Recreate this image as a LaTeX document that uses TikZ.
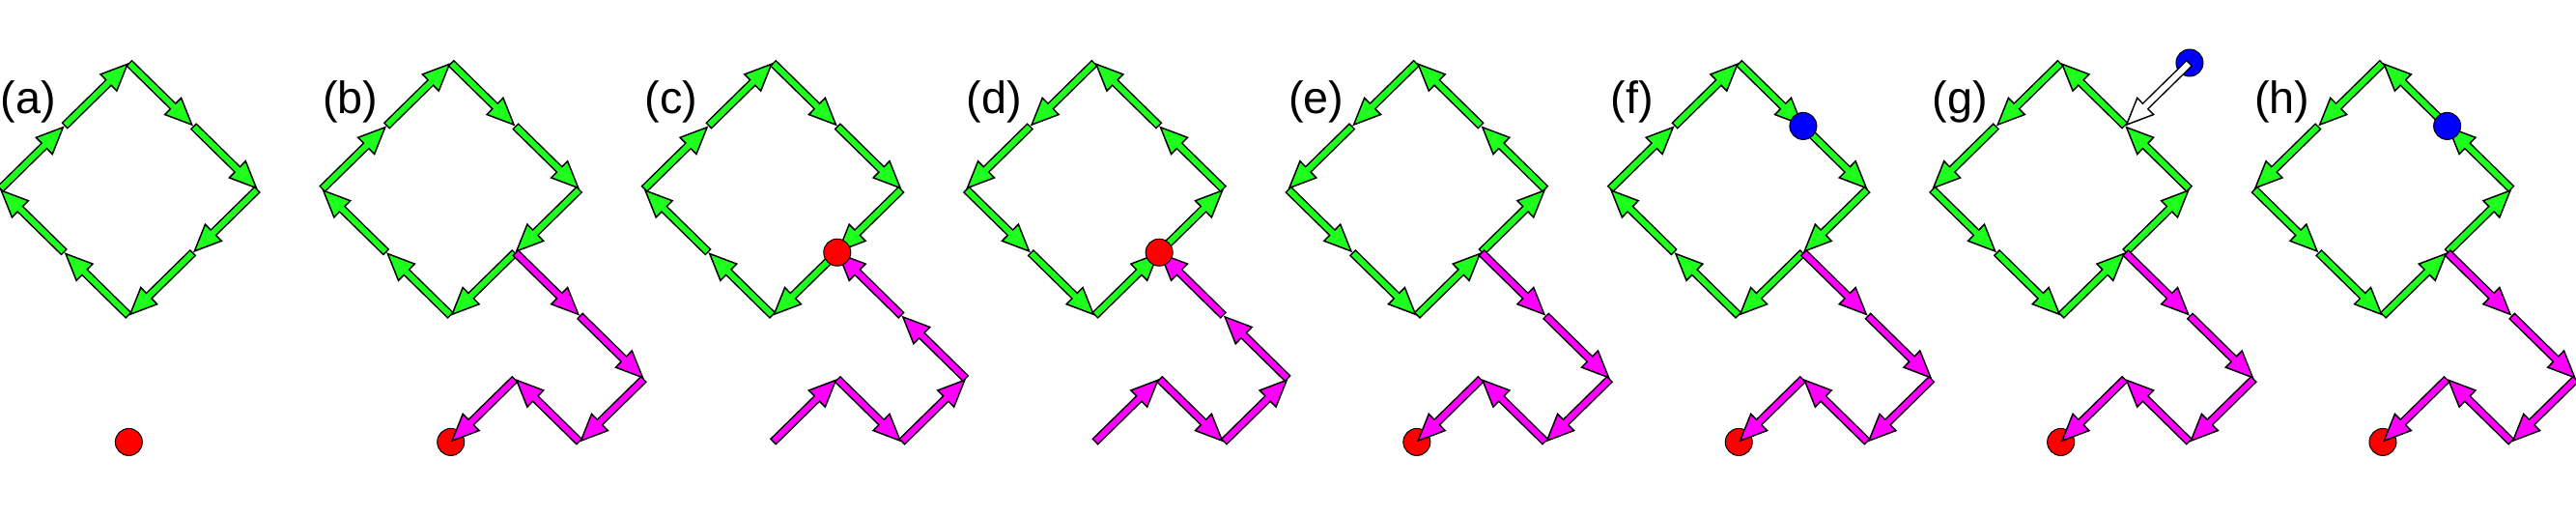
\documentclass[tikz,border=0pt]{standalone}
\usepackage{fontspec}
\setmainfont{Liberation Sans}
\usetikzlibrary{arrows.meta}
\definecolor{loopgreen}{RGB}{30,255,30}
\definecolor{tailpink}{RGB}{255,0,255}
\tikzset{
     hop/.style={line width=0.9mm, draw=black,
       -{Triangle[length=3.0mm, width=2.6mm, line width=0.15mm, fill=#1]}},
     hopfill/.style={line width=0.6mm, draw=#1, shorten <=0.15mm, shorten >=2.4mm},
     dot/.style={circle, draw=black, line width=0.1mm, fill=#1,
       minimum size=2.8mm, inner sep=0pt},
     paneltag/.style={anchor=base west, inner sep=0pt,
       font=\fontsize{13.3pt}{16pt}\selectfont},
}
% one lattice step: black outline, coloured body
\newcommand{\hop}[3]{%
  \draw[hop=#3] (#1) -- (#2);
  \draw[hopfill=#3] (#1) -- (#2);
}

\begin{document}
\begin{tikzpicture}[x=0.6667cm, y=0.654cm]
  \useasboundingbox (0,-1.171) rectangle (40,6.994);

  % lattice points of the eight panels
  \foreach \p [count=\k from 0] in {a,b,c,d,e,f,g,h}{
    \begin{scope}[shift={(5*\k,0)}]
      \coordinate (\p-L) at (0,4);
      \coordinate (\p-T) at (2,6);
      \coordinate (\p-R) at (4,4);
      \coordinate (\p-B) at (2,2);
      \coordinate (\p-tl) at (1,5);
      \coordinate (\p-tr) at (3,5);
      \coordinate (\p-br) at (3,3);
      \coordinate (\p-bl) at (1,3);
      \coordinate (\p-t1) at (4,2);
      \coordinate (\p-t2) at (5,1);
      \coordinate (\p-t3) at (4,0);
      \coordinate (\p-t4) at (3,1);
      \coordinate (\p-t5) at (2,0);
      \node[paneltag] (\p-tag) at (0,5.205) {(\p)};
    \end{scope}
  }
  \coordinate (g-src) at (34,6);

  % end dots under the tails
  \foreach \p in {a,b,e,f,g,h}{
    \node[dot=red] (\p-hole) at (\p-t5) {};
  }

  % clockwise loops
  \foreach \p in {a,b,c,f}{
    \foreach \u/\v in {L/tl,tl/T,T/tr,tr/R,R/br,br/B,B/bl,bl/L}{
      \hop{\p-\u}{\p-\v}{loopgreen}
    }
  }
  % anticlockwise loops
  \foreach \p in {d,e,g,h}{
    \foreach \u/\v in {T/tl,tl/L,L/bl,bl/B,B/br,br/R,R/tr,tr/T}{
      \hop{\p-\u}{\p-\v}{loopgreen}
    }
  }

  % tails going out
  \foreach \p in {b,e,f,g,h}{
    \foreach \u/\v in {br/t1,t1/t2,t2/t3,t3/t4,t4/t5}{
      \hop{\p-\u}{\p-\v}{tailpink}
    }
  }
  % tails coming in
  \foreach \p in {c,d}{
    \foreach \u/\v in {t5/t4,t4/t3,t3/t2,t2/t1,t1/br}{
      \hop{\p-\u}{\p-\v}{tailpink}
    }
  }

  % dots on the loop
  \node[dot=red] (c-hole) at (c-br) {};
  \node[dot=red] (d-hole) at (d-br) {};
  \node[dot=blue] (f-spin) at (f-tr) {};
  \node[dot=blue] (h-spin) at (h-tr) {};

  % incoming spin in (g)
  \node[dot=blue] (g-spin) at (g-src) {};
  \hop{g-spin.center}{g-tr}{white}
\end{tikzpicture}
\end{document}
